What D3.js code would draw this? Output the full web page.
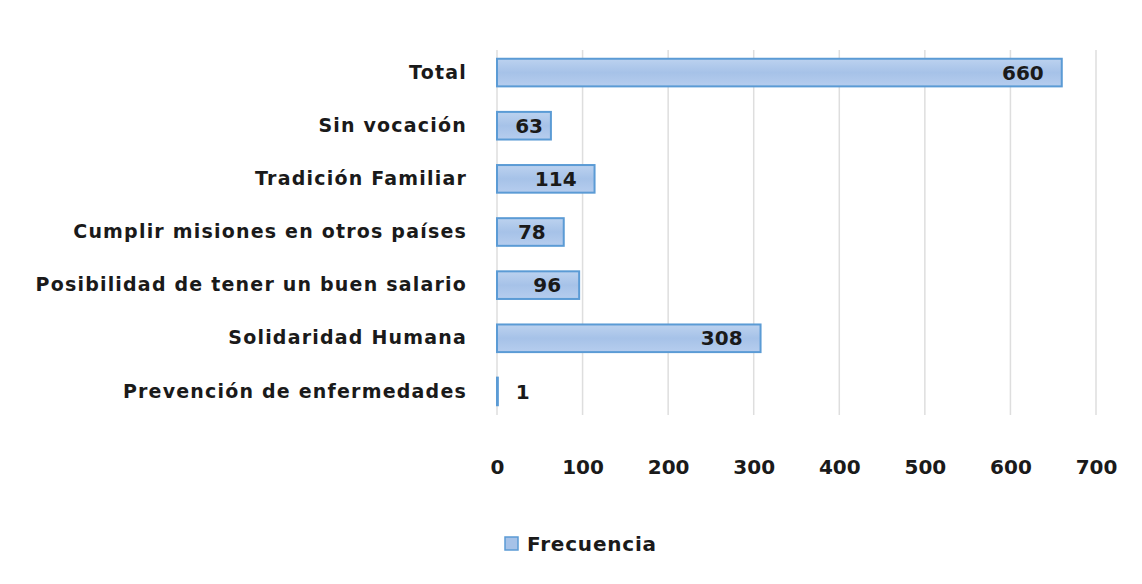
<!DOCTYPE html>
<html>
<head>
<meta charset="utf-8">
<script src="https://cdn.jsdelivr.net/npm/d3@7"></script>
<style>
  body { margin: 0; background: #fff; }
  svg text { font-family: "DejaVu Sans", sans-serif; font-weight: bold; fill: #1a1a1a; }
</style>
</head>
<body>
<svg width="1142" height="584"></svg>
<script>
var categories = ["Total", "Sin vocación", "Tradición Familiar", "Cumplir misiones en otros países",
                  "Posibilidad de tener un buen salario", "Solidaridad Humana", "Prevención de enfermedades"];
var frecuencia = [660, 63, 114, 78, 96, 308, 1];
var xTicks = [0, 100, 200, 300, 400, 500, 600, 700];
var seriesName = "Frecuencia";

var svg = d3.select("svg"),
    margin = {top: 46, left: 497},
    g = svg.append("g").attr("transform", "translate(" + margin.left + "," + margin.top + ")");

var defs = svg.append("defs");
var grad = defs.append("linearGradient").attr("id", "barFill")
    .attr("x1", 0).attr("y1", 0).attr("x2", 0).attr("y2", 1);
grad.append("stop").attr("offset", "0%").attr("stop-color", "#bcd2ef");
grad.append("stop").attr("offset", "50%").attr("stop-color", "#a6c2e8");
grad.append("stop").attr("offset", "100%").attr("stop-color", "#b6cdee");

var x = d3.scaleLinear().domain([0, 700]).range([0, 599]);
var y = d3.scaleBand().domain(categories).range([0, 372]).paddingInner(0.48).paddingOuter(0.24);

// gridlines
g.selectAll(".grid").data(xTicks).enter().append("line")
    .attr("x1", function(d) { return x(d); }).attr("x2", function(d) { return x(d); })
    .attr("y1", 4).attr("y2", 369)
    .attr("stroke", "#dedede").attr("stroke-width", 1.5);

// x tick labels
var xAxis = g.append("g").attr("transform", "translate(0,421)")
    .call(d3.axisBottom(x).tickValues(xTicks).tickSize(0).tickPadding(0));
xAxis.select(".domain").remove();
xAxis.selectAll("text").style("font-size", "20px").attr("dy", "0.35em")
    .style("font-family", "DejaVu Sans, sans-serif").attr("fill", "#1a1a1a");

// y category labels
var yAxis = g.append("g").attr("transform", "translate(-30,0)")
    .call(d3.axisLeft(y).tickSize(0).tickPadding(0));
yAxis.select(".domain").remove();
yAxis.selectAll("text").style("font-size", "19px").style("letter-spacing", "1.2px")
    .style("font-family", "DejaVu Sans, sans-serif").attr("fill", "#1a1a1a");

// bars
g.selectAll(".bar").data(frecuencia).enter().append("rect")
    .attr("class", "bar")
    .attr("x", x(0))
    .attr("y", function(d, i) { return y(categories[i]); })
    .attr("width", function(d) { return x(d) - x(0); })
    .attr("height", y.bandwidth())
    .attr("fill", "url(#barFill)")
    .attr("stroke", "#5b9bd5").attr("stroke-width", 2);

// value labels
g.selectAll(".val").data(frecuencia).enter().append("text")
    .attr("class", "val")
    .attr("x", function(d) { return x(d) > 30 ? x(d) - Math.min(18, x(d) - 46) : x(d) + 18; })
    .attr("y", function(d, i) { return y(categories[i]) + y.bandwidth() / 2; })
    .attr("dy", "0.36em")
    .attr("text-anchor", function(d) { return x(d) > 30 ? "end" : "start"; })
    .style("font-size", "20px")
    .text(function(d) { return d; });

// legend
var lg = svg.append("g").attr("transform", "translate(505,537)");
lg.append("rect").attr("width", 13).attr("height", 13)
    .attr("fill", "#a6c2e8").attr("stroke", "#5b9bd5").attr("stroke-width", 1.5);
lg.append("text").attr("x", 22).attr("y", 7).attr("dy", "0.36em")
    .style("font-size", "20px").style("letter-spacing", "0.8px")
    .text(seriesName);
</script>
</body>
</html>
